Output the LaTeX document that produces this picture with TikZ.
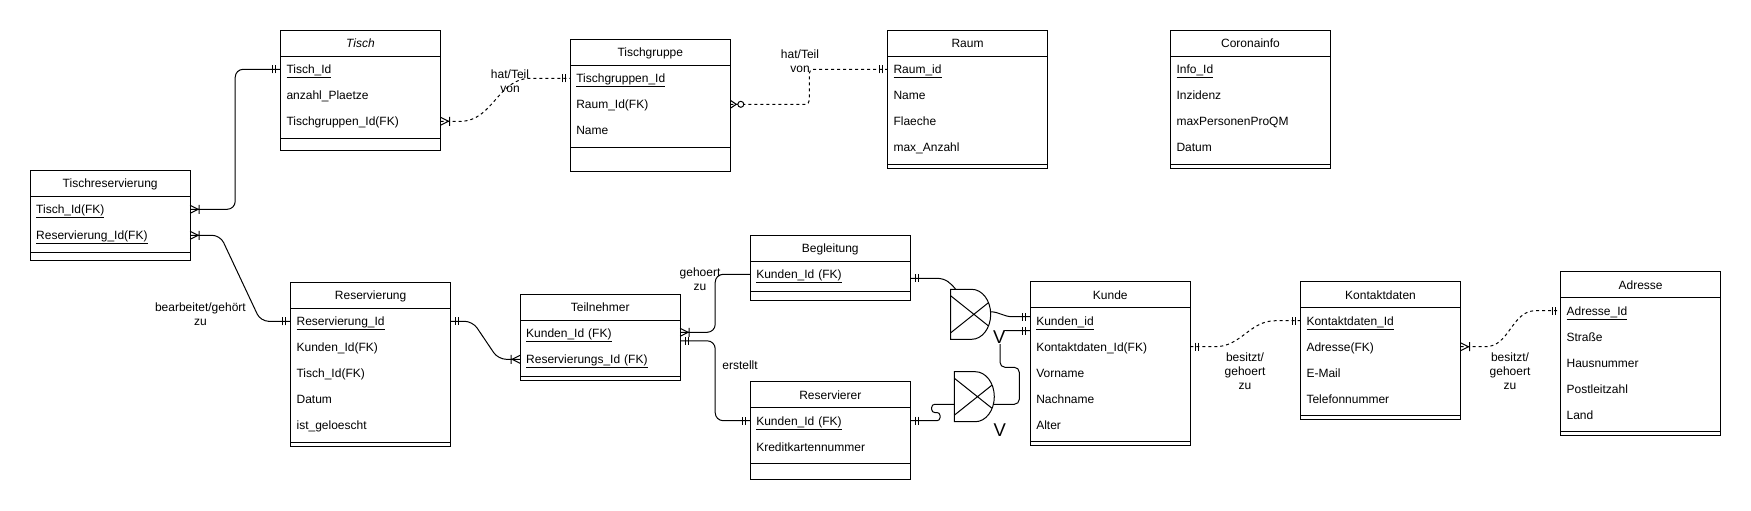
\documentclass[tikz,border=0pt]{standalone}
\usepackage{fontspec}
\setmainfont{Liberation Sans}
\usetikzlibrary{positioning}

\begin{document}
\begin{tikzpicture}[x=1pt, y=-1pt, line width=1pt,
    font=\fontsize{12}{14}\selectfont,
    head/.style={rectangle, draw, minimum width=160pt, minimum height=26pt, inner sep=0pt, outer sep=0pt, text height=8.6pt, text depth=0pt},
    attr/.style={rectangle, minimum width=160pt, minimum height=26pt, inner xsep=6pt, inner ysep=0pt, outer sep=0pt, text width=148pt, align=left, text height=8.6pt, text depth=0pt},
    rel/.style={rounded corners=8pt},
    dsh/.style={dash pattern=on 3pt off 3pt},
    lbl/.style={align=center, inner sep=0pt},
    orsign/.style={font=\fontsize{18.5}{20}\selectfont, fill=white, inner sep=0.6pt, text depth=0pt},
    mandone/.pic={\draw[solid] (5,-4) -- (5,4) (8,-4) -- (8,4);},
    onemany/.pic={\draw[solid] (0,-4) -- (8,0) -- (0,4) (9,-4.5) -- (9,4.5);},
    zeromany/.pic={\draw[solid] (0,-4) -- (6,0) -- (0,4); \draw[solid, fill=white] (10.5,0) circle (3);}
]
\useasboundingbox (0,0) rectangle (1751,511);

% Tables (top row)
\node[head] (tisch) at (360.5,43.3) {\textit{Tisch}};
\node[attr, below=0pt of tisch] (tisch1) {\underline{Tisch\_Id}};
\node[attr, below=0pt of tisch1] (tisch2) {anzahl\_Plaetze};
\node[attr, below=0pt of tisch2] (tisch3) {Tischgruppen\_Id(FK)};

\node[head] (tgruppe) at (650.3,52.3) {Tischgruppe};
\node[attr, below=0pt of tgruppe] (tgruppe1) {\underline{Tischgruppen\_Id}};
\node[attr, below=0pt of tgruppe1] (tgruppe2) {Raum\_Id(FK)};
\node[attr, below=0pt of tgruppe2] (tgruppe3) {Name};

\node[head] (raum) at (967.5,43.3) {Raum};
\node[attr, below=0pt of raum] (raum1) {\underline{Raum\_id}};
\node[attr, below=0pt of raum1] (raum2) {Name};
\node[attr, below=0pt of raum2] (raum3) {Flaeche};
\node[attr, below=0pt of raum3] (raum4) {max\_Anzahl};

\node[head] (corona) at (1250.5,43.3) {Coronainfo};
\node[attr, below=0pt of corona] (corona1) {\underline{Info\_Id}};
\node[attr, below=0pt of corona1] (corona2) {Inzidenz};
\node[attr, below=0pt of corona2] (corona3) {maxPersonenProQM};
\node[attr, below=0pt of corona3] (corona4) {Datum};

% Tables (lower part)
\node[head] (tres) at (110.2,183.3) {Tischreservierung};
\node[attr, below=0pt of tres] (tres1) {\underline{Tisch\_Id(FK)}};
\node[attr, below=0pt of tres1] (tres2) {\underline{Reservierung\_Id(FK)}};

\node[head] (res) at (370.6,295.3) {Reservierung};
\node[attr, below=0pt of res] (res1) {\underline{Reservierung\_Id}};
\node[attr, below=0pt of res1] (res2) {Kunden\_Id(FK)};
\node[attr, below=0pt of res2] (res3) {Tisch\_Id(FK)};
\node[attr, below=0pt of res3] (res4) {Datum};
\node[attr, below=0pt of res4] (res5) {ist\_geloescht};

\node[head] (teil) at (600.2,307.3) {Teilnehmer};
\node[attr, below=0pt of teil] (teil1) {\underline{Kunden\_Id (FK)}};
\node[attr, below=0pt of teil1] (teil2) {\underline{Reservierungs\_Id (FK)}};

\node[head] (begl) at (830.3,248.3) {Begleitung};
\node[attr, below=0pt of begl] (begl1) {\underline{Kunden\_Id (FK)}};

\node[head] (resv) at (830.3,394.7) {Reservierer};
\node[attr, below=0pt of resv] (resv1) {\underline{Kunden\_Id (FK)}};
\node[attr, below=0pt of resv1] (resv2) {Kreditkartennummer};

\node[head] (kunde) at (1110.3,294.7) {Kunde};
\node[attr, below=0pt of kunde] (kunde1) {\underline{Kunden\_id}};
\node[attr, below=0pt of kunde1] (kunde2) {Kontaktdaten\_Id(FK)};
\node[attr, below=0pt of kunde2] (kunde3) {Vorname};
\node[attr, below=0pt of kunde3] (kunde4) {Nachname};
\node[attr, below=0pt of kunde4] (kunde5) {Alter};

\node[head] (kontakt) at (1380.5,294.7) {Kontaktdaten};
\node[attr, below=0pt of kontakt] (kontakt1) {\underline{Kontaktdaten\_Id}};
\node[attr, below=0pt of kontakt1] (kontakt2) {Adresse(FK)};
\node[attr, below=0pt of kontakt2] (kontakt3) {E-Mail};
\node[attr, below=0pt of kontakt3] (kontakt4) {Telefonnummer};

\node[head] (adr) at (1640.6,284.7) {Adresse};
\node[attr, below=0pt of adr] (adr1) {\underline{Adresse\_Id}};
\node[attr, below=0pt of adr1] (adr2) {Straße};
\node[attr, below=0pt of adr2] (adr3) {Hausnummer};
\node[attr, below=0pt of adr3] (adr4) {Postleitzahl};
\node[attr, below=0pt of adr4] (adr5) {Land};

% Table frames
\draw (tisch.north west) rectangle ([yshift=-16pt]tisch3.south east) ([yshift=-4pt]tisch3.south west) -- ([yshift=-4pt]tisch3.south east);
\draw (tgruppe.north west) rectangle ([yshift=-28pt]tgruppe3.south east) ([yshift=-4pt]tgruppe3.south west) -- ([yshift=-4pt]tgruppe3.south east);
\draw (raum.north west) rectangle ([yshift=-8pt]raum4.south east) ([yshift=-4pt]raum4.south west) -- ([yshift=-4pt]raum4.south east);
\draw (corona.north west) rectangle ([yshift=-8pt]corona4.south east) ([yshift=-4pt]corona4.south west) -- ([yshift=-4pt]corona4.south east);
\draw (tres.north west) rectangle ([yshift=-12pt]tres2.south east) ([yshift=-4pt]tres2.south west) -- ([yshift=-4pt]tres2.south east);
\draw (res.north west) rectangle ([yshift=-8pt]res5.south east) ([yshift=-4pt]res5.south west) -- ([yshift=-4pt]res5.south east);
\draw (teil.north west) rectangle ([yshift=-8pt]teil2.south east) ([yshift=-4pt]teil2.south west) -- ([yshift=-4pt]teil2.south east);
\draw (begl.north west) rectangle ([yshift=-13pt]begl1.south east) ([yshift=-4pt]begl1.south west) -- ([yshift=-4pt]begl1.south east);
\draw (resv.north west) rectangle ([yshift=-20pt]resv2.south east) ([yshift=-4pt]resv2.south west) -- ([yshift=-4pt]resv2.south east);
\draw (kunde.north west) rectangle ([yshift=-8pt]kunde5.south east) ([yshift=-4pt]kunde5.south west) -- ([yshift=-4pt]kunde5.south east);
\draw (kontakt.north west) rectangle ([yshift=-8pt]kontakt4.south east) ([yshift=-4pt]kontakt4.south west) -- ([yshift=-4pt]kontakt4.south east);
\draw (adr.north west) rectangle ([yshift=-8pt]adr5.south east) ([yshift=-4pt]adr5.south west) -- ([yshift=-4pt]adr5.south east);

% Gates
\coordinate (g1) at (950.7,289.3);
\coordinate (g2) at (954.3,371.7);
\begin{scope}[shift={(g1)}]
  \draw (0,0) -- (21,0) .. controls (31.5,0) and (40,11.2) .. (40,25) .. controls (40,38.8) and (31.5,50) .. (21,50) -- (0,50) -- cycle;
  \draw (0,6.5) -- (37.6,36.5) (0,43.5) -- (37.6,13.5);
  \coordinate (g1in) at (5,0);
  \coordinate (g1out) at (39.8,22.5);
\end{scope}
\begin{scope}[shift={(g2)}]
  \draw (0,0) -- (21,0) .. controls (31.5,0) and (40,11.2) .. (40,25) .. controls (40,38.8) and (31.5,50) .. (21,50) -- (0,50) -- cycle;
  \draw (0,6.5) -- (37.6,36.5) (0,43.5) -- (37.6,13.5);
  \coordinate (g2in) at (0,32.6);
  \coordinate (g2out) at (39.1,32.6);
\end{scope}

% Relations (solid)
\draw[rel] (tres1.east) -- ++(45,0) |- (tisch1.west);
\draw[rel] (tres2.east) -- ++(30,0) -- ([xshift=-30pt]res1.west) -- (res1.west);
\draw[rel] (res1.east) -- ++(22,0) -- ([xshift=-22pt]teil2.west) -- (teil2.west);
\draw[rel] ([yshift=1pt]teil1.east) -- ++(35,0) |- (begl1.west);
\draw[rel] ([yshift=-7.5pt]teil1.east) -- ++(35,0) |- (resv1.west);
\draw ([yshift=-4pt]begl1.east) -- ++(26,0) .. controls (946,278.3) and (950.5,283) .. (g1in);
\draw (g1out) to[out=0,in=180] ([xshift=-18pt,yshift=4pt]kunde1.west) -- ([yshift=4pt]kunde1.west);
\draw[rounded corners=3pt] (resv1.east) -| (940,412.5) -| (931.7,404.3) -- (g2in);
\draw[rounded corners=5pt] (g2out) -| (1019.3,367.3) -| (1000,330.7) -- ([yshift=-10pt]kunde1.west);

% Relations (dashed)
\draw[dsh] (tisch3.east) -- ++(20,0) to[out=0,in=180] ([xshift=-40pt]tgruppe1.west) -- (tgruppe1.west);
\draw[dsh, rounded corners=4pt] (tgruppe2.east) -- ++(79,0) |- (raum1.west);
\draw[dsh] (kunde2.east) -- ++(25,0) to[out=0,in=180] ([xshift=-25pt]kontakt1.west) -- (kontakt1.west);
\draw[dsh] (kontakt2.east) -- ++(25,0) to[out=0,in=180] ([xshift=-25pt]adr1.west) -- (adr1.west);

% Cardinalities
\pic at (tres1.east) {onemany};
\pic[rotate=180] at (tisch1.west) {mandone};
\pic at (tres2.east) {onemany};
\pic[rotate=180] at (res1.west) {mandone};
\pic at (tisch3.east) {onemany};
\pic[rotate=180] at (tgruppe1.west) {mandone};
\pic at (tgruppe2.east) {zeromany};
\pic[rotate=180] at (raum1.west) {mandone};
\pic at (res1.east) {mandone};
\pic[rotate=180] at (teil2.west) {onemany};
\pic at ([yshift=1pt]teil1.east) {onemany};
\pic at ([yshift=-7.5pt]teil1.east) {mandone};
\pic[rotate=180] at (resv1.west) {mandone};
\pic at ([yshift=-4pt]begl1.east) {mandone};
\pic at (resv1.east) {mandone};
\pic[rotate=180] at ([yshift=4pt]kunde1.west) {mandone};
\pic[rotate=180] at ([yshift=-10pt]kunde1.west) {mandone};
\pic at (kunde2.east) {mandone};
\pic[rotate=180] at (kontakt1.west) {mandone};
\pic at (kontakt2.east) {onemany};
\pic[rotate=180] at (adr1.west) {mandone};

% Labels
\node[lbl] (hat1) at (510,81.5) {hat/Teil\\von};
\node[lbl] (hat2) at (800,61.3) {hat/Teil\\von};
\node[lbl] (bearb) at (200.4,314) {bearbeitet/gehört\\zu};
\node[lbl] (gehoert) at (700,279.7) {gehoert\\zu};
\node[lbl] (erstellt) at (740,365.5) {erstellt};
\node[lbl] (besitzt1) at (1245,371.5) {besitzt/\\gehoert\\zu};
\node[lbl] (besitzt2) at (1510,371.5) {besitzt/\\gehoert\\zu};
\node[orsign] (or1) at (999.3,337.5) {V};
\node[orsign] (or2) at (999.7,430.5) {V};

\end{tikzpicture}
\end{document}
